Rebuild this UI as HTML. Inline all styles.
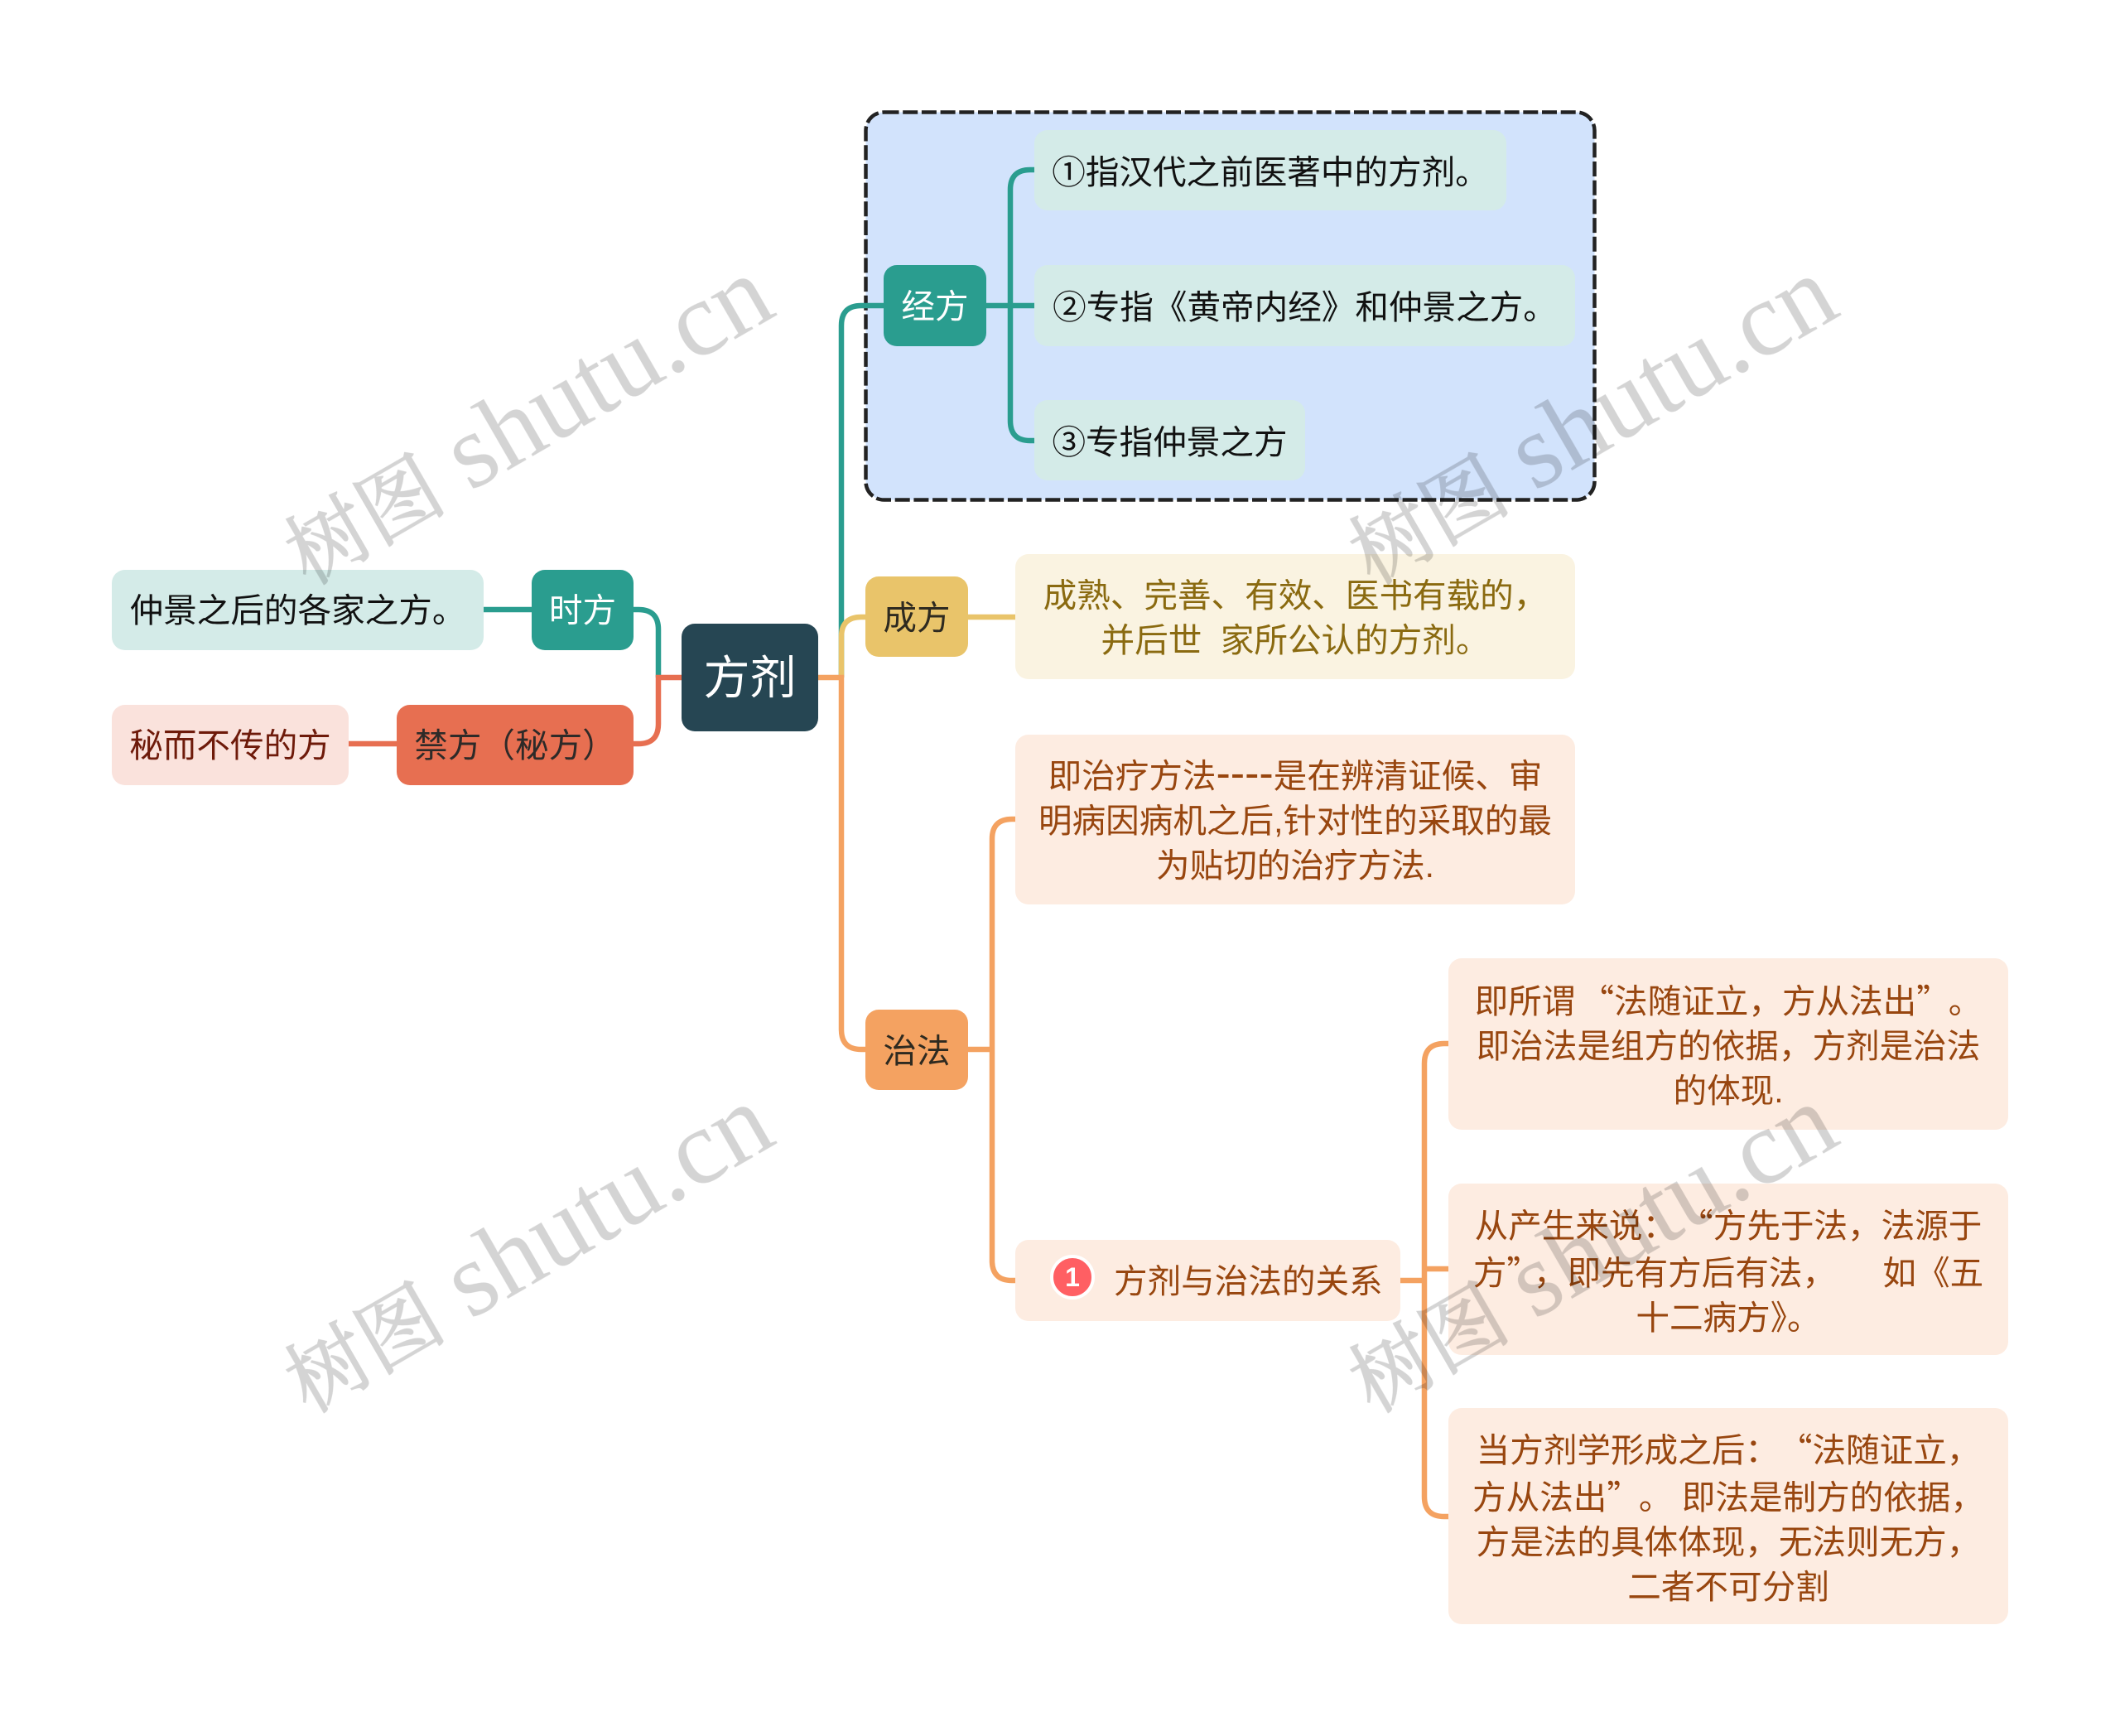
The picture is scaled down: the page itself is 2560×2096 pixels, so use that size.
<!DOCTYPE html>
<html lang="zh-CN">
<head>
<meta charset="utf-8">
<style>
html,body{margin:0;padding:0;background:#fff}
body{width:2560px;height:2096px;position:relative;overflow:hidden;font-family:"Liberation Sans","Noto Sans CJK SC",sans-serif;}
.n{position:absolute;display:flex;align-items:center;justify-content:center;text-align:center;border-radius:16px;font-size:40.6px;line-height:54px;white-space:pre;box-sizing:border-box}
.n>div{position:relative;top:1px}
.n.u>div{top:2px}
.n.v>div{top:0}
.c{font-family:"Noto Sans CJK SC",sans-serif;font-style:normal}
.l{margin-left:.15em}
.l2{margin-left:.6em}
.l3{margin-left:.5em}
.g{margin-right:.3em}
.g2{margin-right:.45em}
.d{font-size:52px;line-height:0}
svg{position:absolute;left:0;top:0}
.t{background:#d4ebe8;color:#111}
.y{background:#faf3e1;color:#8a6a10}
.o{background:#fdece1;color:#98460f}
.r{background:#fae2dc;color:#6e1a0a}
.w1{font-family:'Liberation Serif','Noto Serif CJK SC',serif;font-size:98px;stroke:#000;stroke-width:1.5}
.w2{font-family:'Liberation Serif',serif;font-size:128px}
</style>
</head>
<body>
<svg width="2560" height="2096" style="z-index:0">
<rect x="1045.5" y="135.5" width="880" height="468" rx="22" fill="#d2e3fc" stroke="#222" stroke-width="4.5" stroke-dasharray="18 4.7"/>
<g fill="none" stroke-width="6.5">
<g stroke="#2a9d8f">
<path d="M1016 818V393Q1016 369 1040 369H1067"/>
<path d="M1191 369H1249"/>
<path d="M1249 205H1244Q1220 205 1220 229V508Q1220 532 1244 532H1249"/>
<path d="M795 818V760Q795 736 771 736H765"/>
<path d="M584 736H642"/>
</g>
<g stroke="#e9c46a">
<path d="M1016 818V769Q1016 745 1040 745H1045"/>
<path d="M1169 745H1226"/>
</g>
<g stroke="#f4a261">
<path d="M988 818H1016V1243Q1016 1267 1040 1267H1045"/>
<path d="M1169 1267H1198"/>
<path d="M1226 989H1222Q1198 989 1198 1013V1522Q1198 1546 1222 1546H1226"/>
<path d="M1691 1546H1720"/>
<path d="M1749 1260H1744Q1720 1260 1720 1284V1807Q1720 1831 1744 1831H1749"/>
<path d="M1720 1532H1749"/>
</g>
<g stroke="#e76f51">
<path d="M823 818H795V874Q795 898 771 898H765"/>
<path d="M421 898H479"/>
</g>
</g>
</svg>

<div class="n" style="left:823px;top:753px;width:165px;height:130px;background:#264653;color:#fff;font-size:56px"><div>方剂</div></div>

<div class="n" style="left:1067px;top:320px;width:124px;height:98px;background:#2a9d8f;color:#fff"><div>经方</div></div>
<div class="n t u" style="left:1249px;top:157px;width:570px;height:97px"><div>①指汉代之前医著中的方剂。</div></div>
<div class="n t u" style="left:1249px;top:320px;width:653px;height:98px"><div>②专指《黄帝内经》和仲景之方。</div></div>
<div class="n t u" style="left:1249px;top:483px;width:327px;height:97px"><div>③专指仲景之方</div></div>

<div class="n v" style="left:642px;top:688px;width:123px;height:97px;background:#2a9d8f;color:#fff"><div>时方</div></div>
<div class="n t v" style="left:135px;top:688px;width:449px;height:97px"><div>仲景之后的各家之方。</div></div>
<div class="n v" style="left:479px;top:851px;width:286px;height:97px;background:#e76f51;color:#2e2a28"><div>禁方（秘方）</div></div>
<div class="n r v" style="left:135px;top:851px;width:286px;height:97px"><div>秘而不传的方</div></div>

<div class="n" style="left:1045px;top:696px;width:124px;height:97px;background:#e9c46a;color:#2e2a20"><div>成方</div></div>
<div class="n y" style="left:1226px;top:669px;width:676px;height:151px"><div>成熟、完善、有效、医书有载的，
并后世  家所公认的方剂。</div></div>

<div class="n" style="left:1045px;top:1219px;width:124px;height:97px;background:#f4a261;color:#2e2a20"><div>治法</div></div>
<div class="n o" style="left:1226px;top:887px;width:676px;height:205px"><div>即治疗方法<span class="d">----</span>是在辨清证候、审
明病因病机之后,针对性的采取的最
为贴切的治疗方法.</div></div>

<div class="n o" style="left:1226px;top:1497px;width:465px;height:98px;justify-content:flex-start;padding-left:119px"><div>方剂与治法的关系</div></div>
<div style="position:absolute;left:1268px;top:1515px;width:54px;height:54px;border-radius:50%;background:#ff5f63;border:4px solid #fff;box-sizing:border-box;color:#fff;font:bold 32px/46px 'Liberation Sans',sans-serif;text-align:center">1</div>

<div class="n o" style="left:1749px;top:1157px;width:676px;height:207px"><div>即所谓<i class="c l">“</i>法随证立，方从法出<i class="c g2">”</i>。
即治法是组方的依据，方剂是治法
的体现.</div></div>
<div class="n o" style="left:1749px;top:1429px;width:676px;height:207px"><div>从产生来说：<i class="c l2">“</i>方先于法，法源于
方<i class="c g">”</i>，即先有方后有法，     如《五
十二病方》。</div></div>
<div class="n o" style="left:1749px;top:1700px;width:676px;height:261px"><div>当方剂学形成之后：<i class="c l3">“</i>法随证立，
方从法出<i class="c g2">”</i>。 即法是制方的依据，
方是法的具体体现，无法则无方，
二者不可分割</div></div>

<svg width="2560" height="2096" style="z-index:5;pointer-events:none">
<g fill="#000" opacity="0.17">
<text transform="translate(372 707) rotate(-30)"><tspan class="w1">树图</tspan><tspan class="w2" dx="30">shutu.cn</tspan></text>
<text transform="translate(1657 707) rotate(-30)"><tspan class="w1">树图</tspan><tspan class="w2" dx="30">shutu.cn</tspan></text>
<text transform="translate(372 1707) rotate(-30)"><tspan class="w1">树图</tspan><tspan class="w2" dx="30">shutu.cn</tspan></text>
<text transform="translate(1657 1707) rotate(-30)"><tspan class="w1">树图</tspan><tspan class="w2" dx="30">shutu.cn</tspan></text>
</g>
</svg>
</body>
</html>
